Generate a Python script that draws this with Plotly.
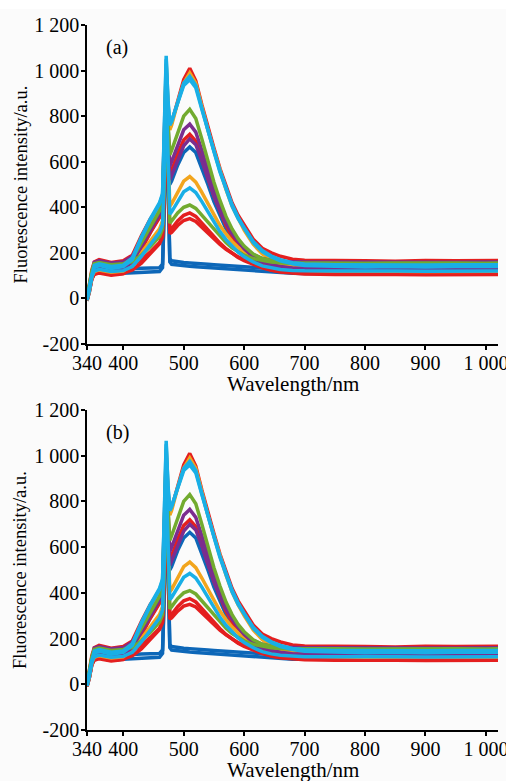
import plotly.graph_objects as go

wavelength = [340, 344, 348, 352, 360, 380, 400, 415, 430, 445, 460, 465, 468, 471, 474, 477,
              480, 490, 500, 510, 520, 530, 540, 550, 560, 570, 580, 590, 600, 615, 630,
              645, 660, 680, 700, 750, 800, 850, 900, 950, 1000, 1020]

# Representative spectra (fluorescence intensity, a.u.)
blue_flat = [-8, 40, 100, 125, 132, 122, 128, 130, 132, 133, 135, 150, 420, 920, 520, 175, 165, 160, 158, 156, 155,
             152, 150, 148, 146, 144, 142, 140, 138, 135, 132, 130, 128, 127, 126, 125, 125, 124, 125, 126, 125, 125]
blue_flat2 = [-10, 30, 88, 110, 116, 106, 110, 112, 113, 115, 118, 135, 400, 880, 500, 160, 150, 146, 143, 141, 139,
              137, 135, 133, 131, 129, 127, 125, 123, 120, 117, 114, 112, 110, 109, 108, 108, 107, 108, 109, 108, 108]
blue_mid = [-5, 40, 100, 125, 132, 122, 128, 155, 225, 295, 360, 395, 600, 880, 700, 500, 515, 585, 640, 665, 640,
            575, 500, 425, 360, 305, 262, 228, 200, 168, 148, 137, 131, 127, 126, 125, 124, 125, 126, 125, 124, 125]
red_low = [-10, 30, 88, 108, 115, 105, 110, 125, 155, 195, 240, 270, 480, 850, 600, 300, 305, 340, 365, 375, 360,
           330, 300, 270, 243, 218, 197, 180, 166, 148, 134, 124, 118, 114, 112, 110, 111, 110, 109, 110, 111, 110]
red_low2 = [-5, 45, 105, 133, 140, 130, 135, 145, 170, 205, 245, 275, 470, 820, 580, 285, 290, 320, 342, 350, 338,
            312, 286, 260, 237, 216, 197, 182, 170, 155, 146, 140, 137, 136, 135, 135, 134, 135, 136, 135, 134, 135]
red_mid = [-10, 30, 85, 105, 112, 102, 108, 140, 215, 290, 355, 390, 610, 920, 730, 540, 560, 635, 695, 720, 690,
           615, 530, 450, 380, 320, 272, 232, 200, 162, 138, 124, 116, 110, 107, 105, 106, 105, 104, 105, 106, 105]
red_top = [0, 60, 125, 160, 170, 158, 165, 190, 275, 350, 405, 440, 700, 1000, 840, 745, 770, 870, 960, 1010, 955,
           850, 750, 660, 570, 490, 420, 365, 320, 260, 220, 200, 185, 172, 168, 165, 165, 163, 166, 165, 164, 166]
orange_low = [0, 50, 110, 142, 150, 140, 145, 160, 200, 250, 305, 340, 560, 940, 680, 405, 415, 465, 515, 535, 510,
              465, 415, 365, 320, 283, 250, 225, 205, 182, 165, 155, 150, 147, 146, 145, 145, 144, 145, 146, 145, 145]
orange_top = [-8, 35, 95, 118, 125, 115, 120, 150, 245, 330, 400, 440, 680, 1030, 850, 740, 760, 860, 945, 990, 945,
              840, 740, 650, 560, 478, 405, 348, 300, 238, 195, 168, 150, 132, 124, 120, 118, 119, 118, 117, 118, 119]
purple_mid = [-5, 45, 105, 130, 138, 128, 132, 160, 230, 305, 370, 405, 640, 950, 760, 580, 600, 675, 740, 765, 730,
              650, 560, 475, 400, 340, 290, 250, 218, 182, 160, 148, 140, 134, 132, 130, 131, 130, 129, 130, 131, 130]
purple_mid2 = [0, 60, 120, 158, 165, 155, 160, 185, 250, 315, 375, 410, 630, 900, 720, 520, 540, 610, 670, 700, 675,
               605, 525, 450, 385, 330, 285, 250, 222, 192, 175, 166, 162, 160, 160, 160, 159, 161, 160, 159, 160, 160]
green_low = [0, 55, 118, 152, 158, 148, 152, 162, 190, 228, 272, 305, 520, 880, 620, 330, 340, 375, 400, 410, 395,
             365, 332, 300, 272, 245, 222, 205, 190, 175, 166, 160, 157, 156, 155, 155, 154, 155, 156, 155, 154, 155]
green_mid = [0, 55, 115, 148, 155, 145, 150, 175, 245, 320, 385, 420, 660, 980, 780, 630, 650, 730, 800, 830, 790,
             700, 600, 510, 430, 360, 305, 262, 230, 195, 175, 165, 158, 153, 151, 150, 150, 149, 150, 151, 150, 150]
cyan_low = [-8, 35, 95, 120, 128, 118, 122, 140, 185, 235, 290, 325, 540, 900, 650, 370, 380, 425, 468, 485, 465,
            425, 380, 335, 293, 258, 228, 203, 183, 160, 143, 133, 127, 123, 121, 120, 121, 120, 119, 120, 121, 120]
cyan_top = [-5, 45, 105, 135, 145, 132, 140, 170, 265, 345, 415, 455, 720, 1065, 860, 760, 775, 865, 945, 975, 935,
            835, 735, 645, 555, 475, 405, 350, 305, 245, 205, 182, 165, 152, 145, 140, 138, 140, 138, 140, 138, 140]
cyan_top2 = [0, 50, 112, 145, 152, 140, 146, 178, 270, 350, 420, 460, 740, 1050, 870, 770, 780, 860, 935, 960, 925,
             830, 735, 648, 560, 482, 412, 356, 310, 250, 210, 186, 170, 157, 151, 148, 147, 148, 147, 148, 147, 148]

x_tickvals = [340, 400, 500, 600, 700, 800, 900, 1000]
x_ticktext = ["340", "400", "500", "600", "700", "800", "900", "1 000"]
y_tickvals = [-200, 0, 200, 400, 600, 800, 1000, 1200]
y_ticktext = ["-200", "0", "200", "400", "600", "800", "1 000", "1 200"]
panel_labels = ["(a)", "(b)"]

BLUE, RED, ORANGE, PURPLE, GREEN, CYAN = "#0d67b8", "#e41f1f", "#f2a51d", "#7b2d8f", "#72ab2f", "#19afe6"

series = [
    (blue_flat, BLUE), (blue_flat2, BLUE), (blue_mid, BLUE),
    (red_low, RED), (red_low2, RED), (red_mid, RED), (red_top, RED),
    (orange_low, ORANGE), (orange_top, ORANGE),
    (purple_mid, PURPLE), (purple_mid2, PURPLE),
    (green_low, GREEN), (green_mid, GREEN),
    (cyan_low, CYAN), (cyan_top, CYAN), (cyan_top2, CYAN),
]

W, H = 506, 781
FONT = "Liberation Serif"

fig = go.Figure()

# pixel geometry of the two panels
x0, x1 = 87, 498
panels = [(25, 344), (410, 730)]  # (top, bottom) in px

for i, (top, bot) in enumerate(panels):
    xa = "x" if i == 0 else "x2"
    ya = "y" if i == 0 else "y2"
    for vals, col in series:
        fig.add_trace(go.Scatter(x=wavelength, y=vals, mode="lines", xaxis=xa, yaxis=ya,
                                 line=dict(color=col, width=3.5), showlegend=False,
                                 hoverinfo="skip"))

axis_common = dict(showline=True, linecolor="black", linewidth=1.5, ticks="outside",
                   ticklen=4, tickwidth=1.5, tickcolor="black", showgrid=False, zeroline=False,
                   automargin=False, ticklabeloverflow="allow",
                   tickfont=dict(family=FONT, size=20, color="black"))

layout = dict(width=W, height=H, margin=dict(l=0, r=0, t=0, b=0, pad=0),
              paper_bgcolor="#fbfbfb", plot_bgcolor="#fbfbfb", showlegend=False,
              font=dict(family=FONT, color="black"))

for i, (top, bot) in enumerate(panels):
    sfx = "" if i == 0 else "2"
    ydom = [1 - bot / H, 1 - top / H]
    layout["xaxis" + sfx] = dict(domain=[x0 / W, x1 / W], range=[340, 1020], anchor="y" + sfx,
                                 tickvals=x_tickvals, ticktext=x_ticktext, ticklabelstandoff=-4,
                                 **axis_common)
    layout["yaxis" + sfx] = dict(domain=ydom, range=[-200, 1200], anchor="x" + sfx,
                                 tickvals=y_tickvals, ticktext=y_ticktext, ticklabelstandoff=-2,
                                 **axis_common)

fig.update_layout(**layout)

ann = []
for i, (top, bot) in enumerate(panels):
    ann.append(dict(text=panel_labels[i], x=104 / W, y=1 - (top + 22) / H, xref="paper", yref="paper",
                    xanchor="left", yanchor="middle", showarrow=False,
                    font=dict(family=FONT, size=20, color="black")))
    ann.append(dict(text="Wavelength/nm", x=(x0 + x1) / 2 / W, y=1 - (bot + 40) / H,
                    xref="paper", yref="paper", xanchor="center", yanchor="middle", showarrow=False,
                    font=dict(family=FONT, size=21, color="black")))
    ann.append(dict(text="Fluorescence intensity/a.u.", x=20 / W, y=1 - (top + bot) / 2 / H,
                    xref="paper", yref="paper", xanchor="center", yanchor="middle", showarrow=False,
                    textangle=-90, font=dict(family=FONT, size=18.5, color="black")))
fig.update_layout(annotations=ann)
fig.add_shape(type="rect", xref="paper", yref="paper", x0=0, x1=1, y0=1 - 9 / H, y1=1,
              fillcolor="white", line=dict(width=0), layer="below")

fig.write_html("out.html")
